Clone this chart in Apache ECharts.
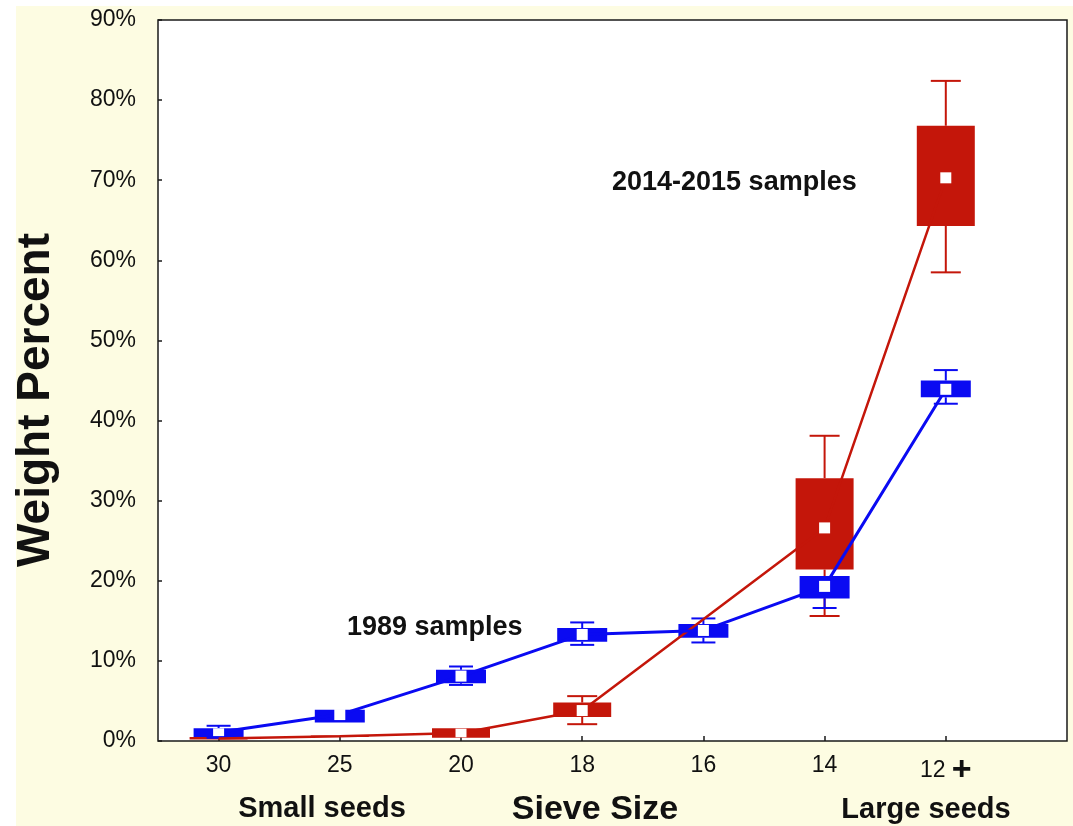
<!DOCTYPE html>
<html>
<head>
<meta charset="utf-8">
<script src="https://cdn.jsdelivr.net/npm/echarts@6/dist/echarts.min.js"></script>
<style>
html,body{margin:0;padding:0;background:#ffffff;}
#chart{width:1073px;height:826px;}
</style>
</head>
<body>
<div id="chart"></div>
<script>
// Sieve size categories (x axis)
const categories = ['30', '25', '20', '18', '16', '14', '12'];
const yTicks = [0, 10, 20, 30, 40, 50, 60, 70, 80, 90];

// 1989 samples (weight percent)
const blueMin    = [0.4, 2.3, 7.0, 12.0, 12.3, 16.6, 42.1];
const blueQ1     = [0.5, 2.3, 7.2, 12.4, 12.9, 17.8, 42.9];
const blueMedian = [1.1, 3.3, 8.1, 13.3, 13.8, 19.3, 43.9];
const blueQ3     = [1.6, 3.9, 8.9, 14.1, 14.6, 20.6, 45.0];
const blueMax    = [1.9, 3.9, 9.3, 14.8, 15.3, 20.6, 46.3];

// 2014-2015 samples (weight percent); no value at sieve 16
const redMin     = [0.2, 0.5, 0.4, 2.1, null, 15.6, 58.5];
const redQ1      = [0.2, 0.5, 0.4, 3.0, null, 21.4, 64.3];
const redMedian  = [0.3, 0.6, 1.0, 3.8, null, 26.6, 70.3];
const redQ3      = [0.5, 0.7, 1.6, 4.8, null, 32.8, 76.8];
const redMax     = [0.5, 0.7, 1.6, 5.6, null, 38.1, 82.4];

const BLUE = '#0a0af2';
const RED = '#c4160a';

function boxData(mn, q1, md, q3, mx) {
  const out = [];
  for (let i = 0; i < categories.length; i++) {
    if (md[i] == null) continue;
    out.push([i, mn[i], q1[i], md[i], q3[i], mx[i]]);
  }
  return out;
}
function lineData(md) {
  const out = [];
  for (let i = 0; i < categories.length; i++) {
    if (md[i] == null) continue;
    out.push([i, md[i]]);
  }
  return out;
}

function makeBoxRender(color, halfW, capHalf) {
  return function (params, api) {
    const x = api.value(0);
    const pMin = api.coord([x, api.value(1)]);
    const pQ1 = api.coord([x, api.value(2)]);
    const pQ3 = api.coord([x, api.value(4)]);
    const pMax = api.coord([x, api.value(5)]);
    const cx = pQ1[0];
    const children = [];
    const ws = { stroke: color, lineWidth: 2 };
    if (api.value(5) > api.value(4)) {
      children.push({ type: 'line', shape: { x1: cx, y1: pQ3[1], x2: cx, y2: pMax[1] }, style: ws });
      children.push({ type: 'line', shape: { x1: cx - capHalf, y1: pMax[1], x2: cx + capHalf, y2: pMax[1] }, style: ws });
    }
    if (api.value(1) < api.value(2)) {
      children.push({ type: 'line', shape: { x1: cx, y1: pQ1[1], x2: cx, y2: pMin[1] }, style: ws });
      children.push({ type: 'line', shape: { x1: cx - capHalf, y1: pMin[1], x2: cx + capHalf, y2: pMin[1] }, style: ws });
    }
    const top = Math.min(pQ1[1], pQ3[1]);
    const h = Math.max(1, Math.abs(pQ1[1] - pQ3[1]));
    children.push({ type: 'rect', shape: { x: cx - halfW, y: top, width: halfW * 2, height: h }, style: { fill: color } });
    return { type: 'group', children: children };
  };
}

function medianRender(params, api) {
  const x = api.value(0);
  const pMed = api.coord([x, api.value(3)]);
  const pQ1 = api.coord([x, api.value(2)]);
  const pQ3 = api.coord([x, api.value(4)]);
  const boxH = Math.abs(pQ1[1] - pQ3[1]);
  const s = 11;
  const h = Math.min(s, boxH - 1);
  if (h < 2) return null;
  return { type: 'rect', shape: { x: pMed[0] - s / 2, y: pMed[1] - h / 2, width: s, height: h }, style: { fill: '#ffffff' } };
}

const chart = echarts.init(document.getElementById('chart'), null, { renderer: 'canvas' });
const tickIdx = categories.map((c, i) => i);

const option = {
  animation: false,
  backgroundColor: 'transparent',
  textStyle: { fontFamily: '"Liberation Sans", Arial, sans-serif' },
  grid: {
    left: 158, right: 6, top: 20, bottom: 85,
    show: true, backgroundColor: '#ffffff', borderColor: '#1a1a1a', borderWidth: 1.5
  },
  xAxis: {
    type: 'value', min: -0.5, max: 7.0,
    axisLine: { show: false, onZero: false },
    splitLine: { show: false },
    axisTick: { show: true, inside: true, length: 5, customValues: tickIdx, lineStyle: { color: '#1a1a1a', width: 1.5 } },
    axisLabel: {
      customValues: tickIdx,
      margin: 13,
      fontSize: 23,
      color: '#111',
      formatter: function (v) {
        const i = Math.round(v);
        return i === 6 ? '{n|' + categories[i] + '} {p|+}' : categories[i];
      },
      rich: {
        n: { fontSize: 23, color: '#111', verticalAlign: 'middle' },
        p: { fontSize: 34, fontWeight: 'bold', color: '#111', verticalAlign: 'middle' }
      }
    }
  },
  yAxis: {
    type: 'value', min: 0, max: 90, interval: 10,
    axisLine: { show: false, onZero: false },
    splitLine: { show: false },
    axisTick: { show: true, inside: true, length: 4, lineStyle: { color: '#1a1a1a', width: 1.5 } },
    axisLabel: {
      margin: 22, fontSize: 23, color: '#111',
      formatter: '{value}%'
    }
  },
  graphic: {
    elements: [
      { type: 'rect', z: -10, silent: true, shape: { x: 16, y: 6, width: 1057, height: 820 }, style: { fill: '#fdfce2' } },
      { type: 'text', x: 36, y: 400, rotation: Math.PI / 2, style: { text: 'Weight Percent', font: 'bold 46px "Liberation Sans", Arial, sans-serif', fill: '#111', textAlign: 'center', textVerticalAlign: 'middle' } },
      { type: 'text', x: 322, y: 809, style: { text: 'Small seeds', font: 'bold 29px "Liberation Sans", Arial, sans-serif', fill: '#111', textAlign: 'center', textVerticalAlign: 'middle' } },
      { type: 'text', x: 595, y: 810, style: { text: 'Sieve Size', font: 'bold 34px "Liberation Sans", Arial, sans-serif', fill: '#111', textAlign: 'center', textVerticalAlign: 'middle' } },
      { type: 'text', x: 926, y: 810, style: { text: 'Large seeds', font: 'bold 29px "Liberation Sans", Arial, sans-serif', fill: '#111', textAlign: 'center', textVerticalAlign: 'middle' } },
      { type: 'text', x: 612, y: 183, style: { text: '2014-2015 samples', font: 'bold 27px "Liberation Sans", Arial, sans-serif', fill: '#111', textAlign: 'left', textVerticalAlign: 'middle' } },
      { type: 'text', x: 347, y: 628, style: { text: '1989 samples', font: 'bold 27px "Liberation Sans", Arial, sans-serif', fill: '#111', textAlign: 'left', textVerticalAlign: 'middle' } }
    ]
  },
  series: [
    { name: '2014-2015 boxes', type: 'custom', z: 2, renderItem: makeBoxRender(RED, 29, 15), data: boxData(redMin, redQ1, redMedian, redQ3, redMax), encode: { x: 0, y: [1, 2, 3, 4, 5] } },
    { name: '1989 boxes', type: 'custom', z: 3, renderItem: makeBoxRender(BLUE, 25, 12), data: boxData(blueMin, blueQ1, blueMedian, blueQ3, blueMax), encode: { x: 0, y: [1, 2, 3, 4, 5] } },
    { name: '2014-2015 samples', type: 'line', z: 4, symbol: 'none', data: lineData(redMedian), lineStyle: { color: RED, width: 2.5 } },
    { name: '1989 samples', type: 'line', z: 5, symbol: 'none', data: lineData(blueMedian), lineStyle: { color: BLUE, width: 3 } },
    { name: '2014-2015 medians', type: 'custom', z: 6, renderItem: medianRender, data: boxData(redMin, redQ1, redMedian, redQ3, redMax), encode: { x: 0, y: [1, 2, 3, 4, 5] } },
    { name: '1989 medians', type: 'custom', z: 7, renderItem: medianRender, data: boxData(blueMin, blueQ1, blueMedian, blueQ3, blueMax), encode: { x: 0, y: [1, 2, 3, 4, 5] } }
  ]
};
chart.setOption(option);
</script>
</body>
</html>
